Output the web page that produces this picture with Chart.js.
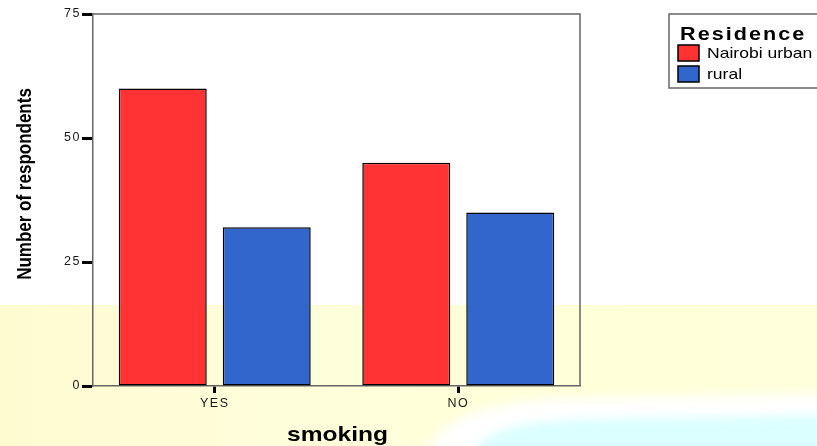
<!DOCTYPE html>
<html>
<head>
<meta charset="utf-8">
<script src="https://cdn.jsdelivr.net/npm/chart.js@4/dist/chart.umd.min.js"></script>
<style>
  html, body { margin: 0; padding: 0; background: #ffffff; }
  #wrap { width: 817px; height: 446px; }
</style>
</head>
<body>
<div id="wrap"><canvas id="chart" width="817" height="446"></canvas></div>
<script>
// Respondents by smoking status and residence
const categories = ['YES', 'NO'];
const seriesNames = ['Nairobi urban', 'rural'];
const urbanCounts = [60, 45];
const ruralCounts = [32, 35];
const yTickValues = [0, 25, 50, 75];
const legendTitle = 'Residence';
const xTitle = 'smoking';
const yTitle = 'Number of respondents';

const RED = '#ff3333';
const BLUE = '#3366cc';
const FRAME = '#666666';
const FONT = '"Liberation Sans", Arial, sans-serif';

// Page backdrop: pale yellow band with a soft cyan wash in the lower right
const backdrop = {
  id: 'backdrop',
  beforeDraw(chart) {
    const ctx = chart.ctx;
    const W = chart.width, H = chart.height;
    ctx.save();
    ctx.fillStyle = '#ffffff';
    ctx.fillRect(0, 0, W, H);
    const g = ctx.createLinearGradient(0, 0, W, 0);
    g.addColorStop(0, '#fdfbd0');
    g.addColorStop(0.35, '#fffedb');
    g.addColorStop(0.7, '#ffffd8');
    g.addColorStop(1, '#ffffdc');
    ctx.fillStyle = g;
    ctx.fillRect(0, 305, W, H - 305);

    ctx.filter = 'blur(6px)';
    ctx.fillStyle = '#ffffff';
    ctx.beginPath();
    ctx.moveTo(425, H + 10);
    ctx.bezierCurveTo(445, 410, 500, 398, 600, 397);
    ctx.lineTo(W + 10, 394);
    ctx.lineTo(W + 10, H + 10);
    ctx.closePath();
    ctx.fill();

    ctx.filter = 'blur(5px)';
    ctx.fillStyle = '#dbffff';
    ctx.beginPath();
    ctx.moveTo(470, H + 10);
    ctx.bezierCurveTo(485, 428, 525, 420, 600, 419);
    ctx.lineTo(W + 10, 415);
    ctx.lineTo(W + 10, H + 10);
    ctx.closePath();
    ctx.fill();
    ctx.restore();

    // spacing used by the axis tick labels
    ctx.letterSpacing = '1.5px';
  },
  beforeDatasetsDraw(chart) {
    // top and right edges of the plot frame
    const { ctx, chartArea: a } = chart;
    ctx.save();
    ctx.strokeStyle = FRAME;
    ctx.lineWidth = 1.5;
    ctx.beginPath();
    ctx.moveTo(a.left, a.top);
    ctx.lineTo(a.right, a.top);
    ctx.lineTo(a.right, a.bottom);
    ctx.stroke();
    ctx.restore();
  },
  afterDraw(chart) {
    const ctx = chart.ctx;
    const a = chart.chartArea;
    ctx.save();
    ctx.letterSpacing = '0px';
    ctx.fillStyle = '#000000';

    // y axis title
    ctx.save();
    ctx.translate(31, 184);
    ctx.rotate(-Math.PI / 2);
    ctx.scale(1, 1.22);
    ctx.font = 'bold 17px ' + FONT;
    ctx.textAlign = 'center';
    ctx.textBaseline = 'alphabetic';
    ctx.fillText(yTitle, 0, 0);
    ctx.restore();

    // x axis title
    ctx.save();
    ctx.translate((a.left + a.right) / 2 + 1, 441);
    ctx.scale(1.17, 1);
    ctx.font = 'bold 21px ' + FONT;
    ctx.textAlign = 'center';
    ctx.textBaseline = 'alphabetic';
    ctx.fillText(xTitle, 0, 0);
    ctx.restore();

    // legend box
    ctx.strokeStyle = FRAME;
    ctx.lineWidth = 1.5;
    ctx.fillStyle = '#ffffff';
    ctx.fillRect(669, 14, 170, 74);
    ctx.strokeRect(669, 14, 170, 74);

    ctx.fillStyle = '#000000';
    ctx.save();
    ctx.translate(680, 40);
    ctx.scale(1.2, 1);
    ctx.letterSpacing = '1.7px';
    ctx.font = 'bold 18px ' + FONT;
    ctx.textBaseline = 'alphabetic';
    ctx.fillText(legendTitle, 0, 0);
    ctx.restore();

    const rows = [{ y: 45, base: 58 }, { y: 66, base: 79 }];
    chart.data.datasets.forEach((ds, i) => {
      const r = rows[i];
      ctx.fillStyle = ds.backgroundColor;
      ctx.fillRect(678, r.y, 21, 16);
      ctx.strokeStyle = '#000000';
      ctx.lineWidth = 1.5;
      ctx.strokeRect(678, r.y, 21, 16);
      ctx.save();
      ctx.translate(707, r.base);
      ctx.scale(1.17, 1);
      ctx.fillStyle = '#000000';
      ctx.font = '15px ' + FONT;
      ctx.textBaseline = 'alphabetic';
      ctx.fillText(ds.label, 0, 0);
      ctx.restore();
    });
    ctx.restore();
  }
};

new Chart(document.getElementById('chart'), {
  type: 'bar',
  data: {
    labels: categories,
    datasets: [
      { label: seriesNames[0], data: urbanCounts, backgroundColor: RED },
      { label: seriesNames[1], data: ruralCounts, backgroundColor: BLUE }
    ]
  },
  options: {
    responsive: false,
    animation: false,
    devicePixelRatio: 1,
    layout: { padding: { left: 0, top: 14, right: 237, bottom: 0 } },
    datasets: {
      bar: {
        borderColor: '#000000',
        borderWidth: 1.5,
        borderSkipped: false,
        barPercentage: 0.846,
        categoryPercentage: 0.854
      }
    },
    plugins: {
      legend: { display: false },
      tooltip: { enabled: false }
    },
    scales: {
      x: {
        type: 'category',
        offset: true,
        grid: {
          offset: false,
          drawOnChartArea: false,
          drawTicks: true,
          tickLength: 7,
          tickWidth: 3,
          tickColor: '#000000'
        },
        border: { display: true, color: FRAME, width: 1.5 },
        ticks: {
          color: '#1a1a1a',
          padding: 3,
          font: { family: FONT, size: 12.5 }
        },
        title: { display: false },
        afterFit(scale) { scale.height = 60; }
      },
      y: {
        min: yTickValues[0],
        max: yTickValues[yTickValues.length - 1],
        afterBuildTicks(scale) {
          scale.ticks = yTickValues.map(v => ({ value: v }));
        },
        grid: {
          drawOnChartArea: false,
          drawTicks: true,
          tickLength: 11,
          tickWidth: 3,
          tickColor: '#000000'
        },
        border: { display: true, color: FRAME, width: 1.5 },
        ticks: {
          color: '#1a1a1a',
          padding: 1,
          font: { family: FONT, size: 12.5 }
        },
        title: { display: false },
        afterFit(scale) { scale.width = 93; }
      }
    }
  },
  plugins: [backdrop]
});
</script>
</body>
</html>
